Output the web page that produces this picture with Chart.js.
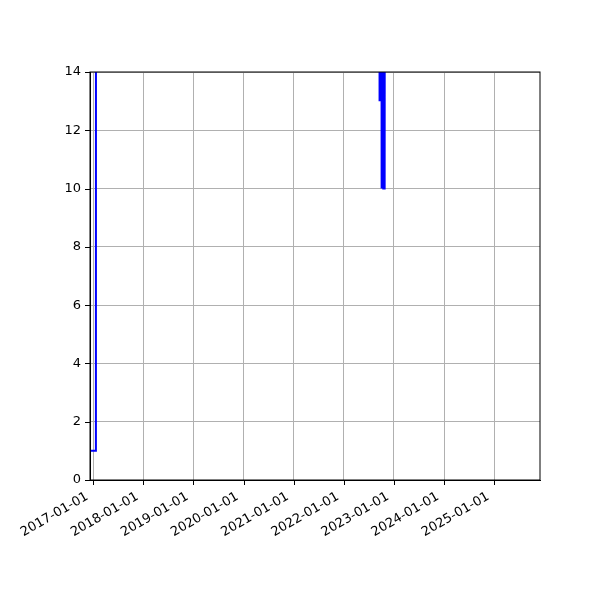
<!DOCTYPE html>
<html>
<head>
<meta charset="utf-8">
<script src="https://cdn.jsdelivr.net/npm/chart.js@4/dist/chart.umd.min.js"></script>
<style>
  html, body { margin: 0; padding: 0; background: #fff; }
</style>
</head>
<body>
<canvas id="chart" width="600" height="600"></canvas>
<script>
// data; values above 14 run off the top of the plot
const dates = [
  '2016-12-13', '2017-01-20', '2017-01-21', '2022-09-14',
  '2022-09-16', '2022-09-18', '2022-09-20', '2022-09-23', '2022-09-26', '2022-09-29',
  '2022-10-03', '2022-10-06', '2022-10-09', '2022-10-12', '2022-10-15',
  '2022-10-18', '2022-10-21', '2022-10-24', '2022-10-26', '2022-10-28'
];
const values = [
  1, 1, 40, 40,
  13, 40, 13, 40, 13, 40,
  10, 40, 10, 40, 10,
  40, 10, 40, 10, 40
];
const xTickLabels = [
  '2017-01-01', '2018-01-01', '2019-01-01', '2020-01-01', '2021-01-01',
  '2022-01-01', '2023-01-01', '2024-01-01', '2025-01-01'
];
const yTicks = [0, 2, 4, 6, 8, 10, 12, 14];
const xMin = '2016-12-08';
const xMax = '2025-11-30';

const points = dates.map((d, i) => ({ x: Date.parse(d), y: values[i] }));

function fmtDate(ms) {
  return new Date(ms).toISOString().slice(0, 10);
}

// matplotlib-like frame and black outward tick marks
const frame = {
  id: 'frame',
  afterDraw(chart) {
    const { ctx, chartArea: a, scales } = chart;
    ctx.save();
    ctx.strokeStyle = '#000';
    ctx.lineWidth = 1;
    ctx.strokeRect(a.left, a.top, a.right - a.left, a.bottom - a.top);
    ctx.beginPath();
    scales.x.ticks.forEach(t => {
      const px = Math.round(scales.x.getPixelForValue(t.value)) + 0.5;
      ctx.moveTo(px, a.bottom);
      ctx.lineTo(px, a.bottom + 5);
    });
    scales.y.ticks.forEach(t => {
      const py = Math.round(scales.y.getPixelForValue(t.value)) + 0.5;
      ctx.moveTo(a.left - 5, py);
      ctx.lineTo(a.left, py);
    });
    ctx.stroke();
    ctx.restore();
  }
};

const bg = {
  id: 'bg',
  beforeDraw(chart) {
    const ctx = chart.ctx;
    ctx.save();
    ctx.fillStyle = '#fff';
    ctx.fillRect(0, 0, chart.width, chart.height);
    ctx.restore();
  }
};

Chart.defaults.font.family = 'DejaVu Sans';
Chart.defaults.font.size = 13;
Chart.defaults.color = '#000';

new Chart(document.getElementById('chart'), {
  type: 'line',
  data: {
    datasets: [{
      data: points,
      borderColor: '#0000ff',
      borderWidth: 2,
      pointRadius: 0,
      tension: 0,
      clip: 0
    }]
  },
  options: {
    responsive: false,
    animation: false,
    layout: { padding: { top: 72, right: 60, left: 0, bottom: 0 } },
    plugins: { legend: { display: false }, tooltip: { enabled: false } },
    scales: {
      x: {
        type: 'linear',
        min: Date.parse(xMin),
        max: Date.parse(xMax),
        afterBuildTicks: s => { s.ticks = xTickLabels.map(l => ({ value: Date.parse(l) })); },
        afterFit: s => { s.height = 120; },
        ticks: {
          autoSkip: false,
          minRotation: 30,
          maxRotation: 30,
          padding: 9,
          labelOffset: -6,
          callback: v => fmtDate(v)
        },
        grid: { color: '#b0b0b0', lineWidth: 1, drawTicks: false },
        border: { color: '#000' }
      },
      y: {
        min: 0,
        max: 14,
        afterBuildTicks: s => { s.ticks = yTicks.map(v => ({ value: v })); },
        afterFit: s => { s.width = 90; },
        ticks: { padding: 9 },
        grid: { color: '#b0b0b0', lineWidth: 1, drawTicks: false },
        border: { color: '#000' }
      }
    }
  },
  plugins: [bg, frame]
});
</script>
</body>
</html>
